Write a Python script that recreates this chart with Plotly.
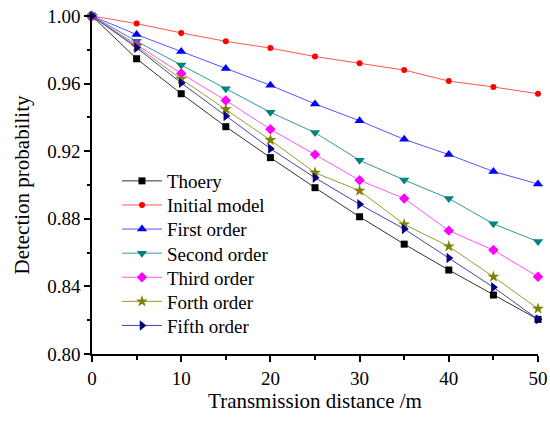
import plotly.graph_objects as go

distance = [0, 5, 10, 15, 20, 25, 30, 35, 40, 45, 50]
theory = [1.0, 0.9747, 0.954, 0.9345, 0.9162, 0.8984, 0.8812, 0.865, 0.8497, 0.8349, 0.8205]
initial_model = [1.0, 0.9955, 0.990, 0.985, 0.981, 0.976, 0.972, 0.968, 0.9615, 0.958, 0.954]
first_order = [1.0, 0.989, 0.979, 0.969, 0.959, 0.948, 0.938, 0.927, 0.918, 0.908, 0.9006]
second_order = [1.0, 0.985, 0.971, 0.957, 0.943, 0.931, 0.9146, 0.903, 0.892, 0.877, 0.8665]
third_order = [1.0, 0.983, 0.966, 0.950, 0.933, 0.918, 0.9028, 0.892, 0.873, 0.8615, 0.8457]
forth_order = [1.0, 0.982, 0.9627, 0.9448, 0.9266, 0.9073, 0.8966, 0.8767, 0.8637, 0.8457, 0.8268]
fifth_order = [1.0, 0.9812, 0.9604, 0.9408, 0.9215, 0.9043, 0.8886, 0.874, 0.8568, 0.8395, 0.8205]

names = ["Thoery", "Initial model", "First order", "Second order", "Third order", "Forth order", "Fifth order"]
series = [theory, initial_model, first_order, second_order, third_order, forth_order, fifth_order]
colors = ["#000000", "#FF0000", "#0000FF", "#008080", "#FF00FF", "#808000", "#000080"]
line_colors = ["#333333", "#FF5555", "#5555FF", "#339999", "#FF55FF", "#999933", "#4444AA"]
symbols = ["square", "circle", "triangle-up", "triangle-down", "diamond", "star", "triangle-right"]
sizes = [7, 6, 9, 9, 8, 9, 9]

font_family = "Liberation Serif, Times New Roman, serif"

fig = go.Figure()
legend_layouts = {}
for i, (name, ys, c, lc, s, sz) in enumerate(zip(names, series, colors, line_colors, symbols, sizes)):
    key = "legend" if i == 0 else f"legend{i + 1}"
    fig.add_trace(go.Scatter(
        x=distance, y=ys, name=name, mode="lines+markers",
        line=dict(color=lc, width=1),
        marker=dict(color=c, symbol=s, size=sz, line=dict(width=0)),
        cliponaxis=False, legend=key,
    ))
    legend_layouts[key] = dict(
        x=0.056, y=0.5118 - 0.0713 * i, xanchor="left", yanchor="middle",
        bgcolor="rgba(0,0,0,0)", font=dict(size=19, family=font_family),
        itemwidth=40,
    )

fig.update_layout(
    width=550, height=422,
    margin=dict(l=92, r=12, t=16, b=68),
    paper_bgcolor="white", plot_bgcolor="white",
    font=dict(family=font_family, size=19, color="black"),
    showlegend=True,
    xaxis=dict(
        range=[0, 50], tickmode="array", tickvals=[0, 10, 20, 30, 40, 50],
        ticks="outside", ticklen=6, tickwidth=1.5, tickcolor="black",
        showline=True, linecolor="black", linewidth=1.5,
        showgrid=False, zeroline=False, automargin=False,
        minor=dict(tickvals=[5, 15, 25, 35, 45], ticks="outside", ticklen=4, tickwidth=1.5, tickcolor="black"),
        title=dict(text="Transmission distance /m", font=dict(size=21, family=font_family), standoff=6),
        tickfont=dict(size=19, family=font_family),
    ),
    yaxis=dict(
        range=[0.80, 1.00], tickmode="array", tickvals=[0.80, 0.84, 0.88, 0.92, 0.96, 1.00],
        ticktext=["0.80", "0.84", "0.88", "0.92", "0.96", "1.00"],
        ticks="outside", ticklen=6, tickwidth=1.5, tickcolor="black",
        showline=True, linecolor="black", linewidth=1.5,
        showgrid=False, zeroline=False, automargin=False,
        minor=dict(tickvals=[0.82, 0.86, 0.90, 0.94, 0.98], ticks="outside", ticklen=3, tickwidth=1.5, tickcolor="black"),
        title=dict(text="Detection probability", font=dict(size=21, family=font_family), standoff=12),
        tickfont=dict(size=19, family=font_family),
    ),
    **legend_layouts,
)

fig.write_html("out.html", config={"displayModeBar": False},
               post_script="document.body.style.margin='0px';")
